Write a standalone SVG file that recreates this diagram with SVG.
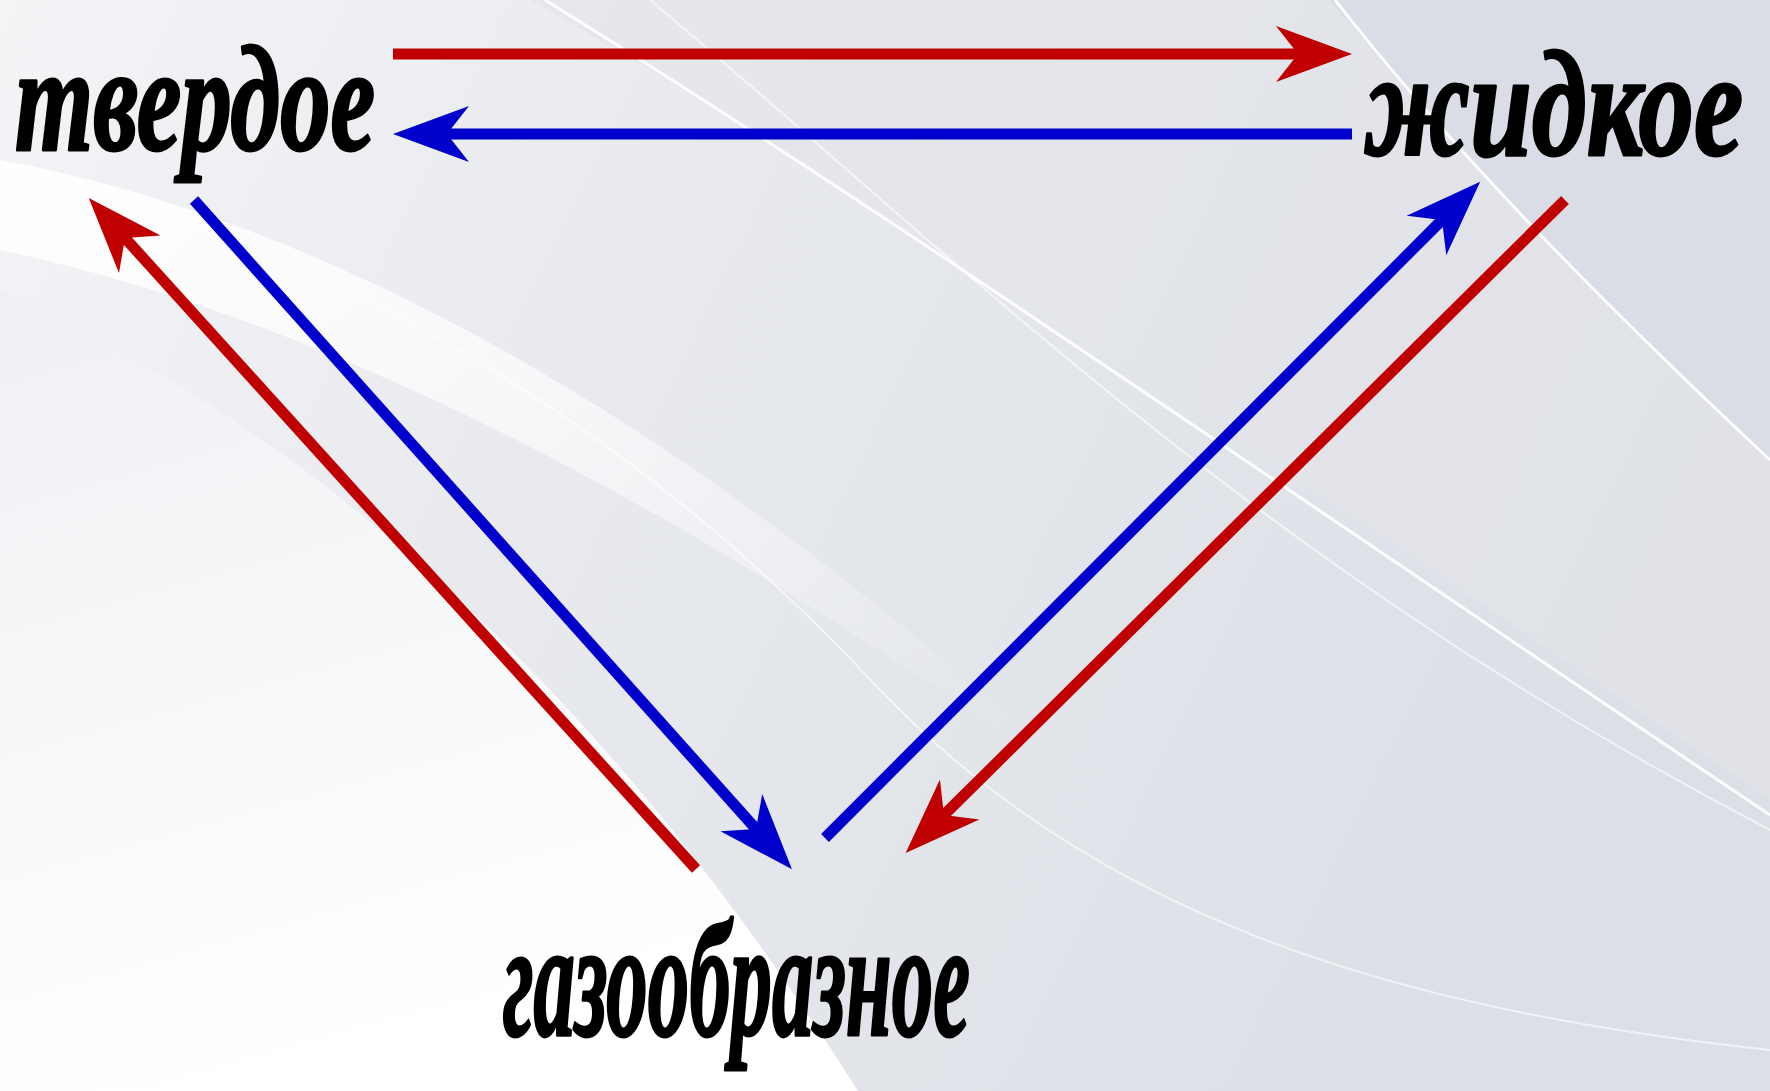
<svg xmlns="http://www.w3.org/2000/svg" width="1770" height="1091" viewBox="0 0 1770 1091">
<style>
.lbl{font-family:"Liberation Serif","DejaVu Serif",serif;font-style:italic;font-weight:bold;fill:#000;stroke:#000;stroke-width:3;stroke-linejoin:round}
.red{stroke:#c00000;stroke-width:11;fill:none}
.blue{stroke:#0000cc;stroke-width:11;fill:none}
.hl{fill:none;stroke:#ffffff}
</style>
<defs>
<linearGradient id="bg" x1="0" y1="0" x2="1" y2="0.3">
<stop offset="0" stop-color="#f3f4f6"/>
<stop offset="0.4" stop-color="#e8eaee"/>
<stop offset="1" stop-color="#dcdfe6"/>
</linearGradient>
<linearGradient id="wb" x1="0" y1="0" x2="1" y2="0.8">
<stop offset="0" stop-color="#ffffff" stop-opacity="0.95"/>
<stop offset="0.5" stop-color="#ffffff" stop-opacity="0.6"/>
<stop offset="1" stop-color="#ffffff" stop-opacity="0"/>
</linearGradient>
<linearGradient id="bl" x1="0" y1="0" x2="0.3" y2="1">
<stop offset="0" stop-color="#eef0f3"/>
<stop offset="1" stop-color="#ffffff"/>
</linearGradient>
<marker id="ahR" markerUnits="userSpaceOnUse" viewBox="-23 -29 78 58" refX="0" refY="0" markerWidth="78" markerHeight="58" orient="auto" overflow="visible">
<path d="M54,0 L-22,-28 L0,0 L-22,28 Z" fill="#c00000"/>
</marker>
<marker id="ahB" markerUnits="userSpaceOnUse" viewBox="-23 -29 78 58" refX="0" refY="0" markerWidth="78" markerHeight="58" orient="auto" overflow="visible">
<path d="M54,0 L-22,-28 L0,0 L-22,28 Z" fill="#0000cc"/>
</marker>
</defs>
<g id="background">
<rect width="1770" height="1091" fill="url(#bg)"/>
<path d="M530,0 C900,210 1300,480 1770,800 L1770,0 Z" fill="#e2e4ea" fill-opacity="0.6"/>
<path d="M1330,0 C1460,160 1610,310 1770,460 L1770,0 Z" fill="#dadde5"/>
<path d="M0,160 C380,230 760,480 1100,800 C760,560 380,330 0,250 Z" fill="url(#wb)"/>
<path d="M0,290 C330,440 610,700 858,1091 L0,1091 Z" fill="url(#bl)"/>
<path class="hl" d="M0,170 C330,240 640,430 880,690 C1100,920 1400,1010 1770,1050" stroke-width="2" opacity="0.6"/>
<path class="hl" d="M545,0 C900,220 1300,500 1770,815" stroke-width="3" opacity="0.9"/>
<path class="hl" d="M1335,0 C1460,160 1610,310 1770,460" stroke-width="3" opacity="0.9"/>
<path class="hl" d="M650,0 C950,250 1250,560 1770,830" stroke-width="2" opacity="0.6"/>
</g>
<g id="connectors">
<line class="red" x1="393" y1="54" x2="1298" y2="54" marker-end="url(#ahR)"/>
<line class="blue" x1="1352" y1="134" x2="447" y2="134" marker-end="url(#ahB)"/>
<line class="red" x1="696" y1="869" x2="125" y2="238" marker-end="url(#ahR)"/>
<line class="blue" x1="194" y1="200" x2="756" y2="829" marker-end="url(#ahB)"/>
<line class="blue" x1="825" y1="838" x2="1442" y2="220" marker-end="url(#ahB)"/>
<line class="red" x1="1565" y1="200" x2="944" y2="815" marker-end="url(#ahR)"/>
</g>
<g id="node-solid">
<text class="lbl" x="15" y="150" font-size="150" textLength="360" lengthAdjust="spacingAndGlyphs">твердое</text>
</g>
<g id="node-liquid">
<text class="lbl" x="1365" y="155" font-size="150" textLength="378" lengthAdjust="spacingAndGlyphs">жидкое</text>
</g>
<g id="node-gas">
<text class="lbl" x="503" y="1035" font-size="165" textLength="467" lengthAdjust="spacingAndGlyphs">газообразное</text>
</g>
</svg>
